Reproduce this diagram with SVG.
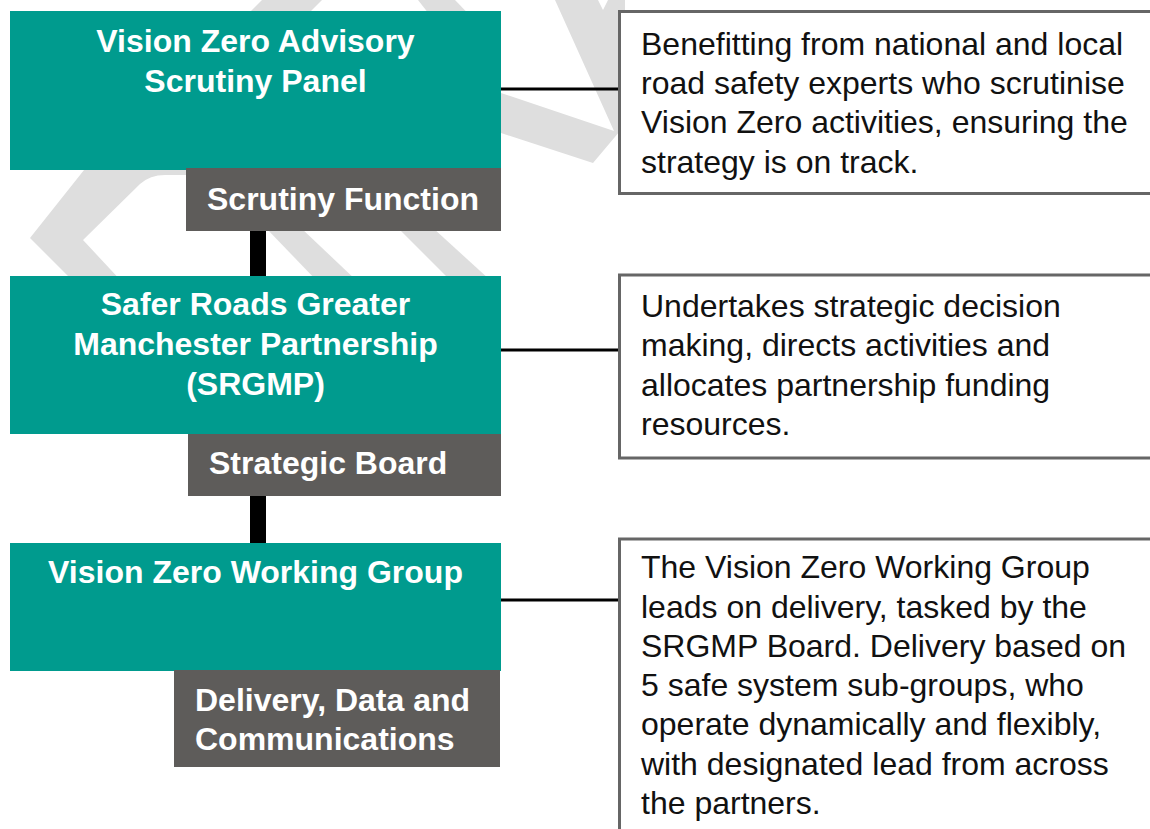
<svg xmlns="http://www.w3.org/2000/svg" width="1150" height="829" viewBox="0 0 1150 829">
<style>
.wm{fill:#dedede}
.main{fill:#009b8e}
.sub{fill:#5e5c5a}
.lt{font-family:"Liberation Sans",Arial,sans-serif;font-weight:bold;font-size:32px;fill:#ffffff}
.desc{fill:#ffffff;stroke:#666666;stroke-width:3}
.dt{font-family:"Liberation Sans",Arial,sans-serif;font-size:32px;fill:#111111}
.vbar{stroke:#000000;stroke-width:16}
.hline{stroke:#000000;stroke-width:3}
</style>
<rect x="0" y="0" width="1150" height="829" fill="#ffffff"/>
<g id="watermark">
<polygon class="wm" points="262,0 322,0 292,30 232,30"/>
<polygon class="wm" points="418,0 455,0 482,28 440,28"/>
<polygon class="wm" points="501,93 614,131 555,0 598,0 603,10 608,0 625,0 625,125 593,163 501,133"/>
<path class="wm" d="M88,165 L192,165 L192,175 L165,175 Q150,175 140,184 L83,240 L124,284 L76,284 L30,238 Z"/>
<polygon class="wm" points="266,228 301,228 358,282 318,282"/>
<polygon class="wm" points="398,228 433,228 490,280 450,280"/>
</g>
<g id="connectors">
<line class="vbar" x1="258" y1="229" x2="258" y2="278"/>
<line class="vbar" x1="258" y1="494" x2="258" y2="545"/>
<line class="hline" x1="500" y1="89" x2="620" y2="89"/>
<line class="hline" x1="500" y1="350" x2="620" y2="350"/>
<line class="hline" x1="500" y1="600" x2="620" y2="600"/>
</g>
<g id="node-panel">
<rect class="main" x="10" y="11" width="491" height="159"/>
<text class="lt" x="255.5" y="52" text-anchor="middle">Vision Zero Advisory</text>
<text class="lt" x="255.5" y="92" text-anchor="middle">Scrutiny Panel</text>
</g>
<g id="node-scrutiny">
<rect class="sub" x="186" y="168" width="315" height="63"/>
<text class="lt" x="207" y="210">Scrutiny Function</text>
</g>
<g id="node-srgmp">
<rect class="main" x="10" y="276" width="491" height="158"/>
<text class="lt" x="255.5" y="315" text-anchor="middle">Safer Roads Greater</text>
<text class="lt" x="255.5" y="355" text-anchor="middle">Manchester Partnership</text>
<text class="lt" x="255.5" y="395" text-anchor="middle">(SRGMP)</text>
</g>
<g id="node-strategic">
<rect class="sub" x="188" y="434" width="313" height="62"/>
<text class="lt" x="209" y="474">Strategic Board</text>
</g>
<g id="node-working">
<rect class="main" x="10" y="543" width="491" height="128"/>
<text class="lt" x="255.5" y="583" text-anchor="middle">Vision Zero Working Group</text>
</g>
<g id="node-delivery">
<rect class="sub" x="174" y="670" width="326" height="97"/>
<text class="lt" x="195" y="711">Delivery, Data and</text>
<text class="lt" x="195" y="750">Communications</text>
</g>
<g id="desc-panel">
<rect class="desc" x="619.5" y="11.5" width="560" height="182"/>
<text class="dt" x="641" y="55">Benefitting from national and local</text>
<text class="dt" x="641" y="94">road safety experts who scrutinise</text>
<text class="dt" x="641" y="133">Vision Zero activities, ensuring the</text>
<text class="dt" x="641" y="173">strategy is on track.</text>
</g>
<g id="desc-srgmp">
<rect class="desc" x="619.5" y="275" width="560" height="183"/>
<text class="dt" x="641" y="317">Undertakes strategic decision</text>
<text class="dt" x="641" y="356">making, directs activities and</text>
<text class="dt" x="641" y="396">allocates partnership funding</text>
<text class="dt" x="641" y="435">resources.</text>
</g>
<g id="desc-working">
<rect class="desc" x="619.5" y="539" width="560" height="400"/>
<text class="dt" x="641" y="578">The Vision Zero Working Group</text>
<text class="dt" x="641" y="618">leads on delivery, tasked by the</text>
<text class="dt" x="641" y="657">SRGMP Board. Delivery based on</text>
<text class="dt" x="641" y="696">5 safe system sub-groups, who</text>
<text class="dt" x="641" y="735">operate dynamically and flexibly,</text>
<text class="dt" x="641" y="775">with designated lead from across</text>
<text class="dt" x="641" y="814">the partners.</text>
</g>
</svg>
